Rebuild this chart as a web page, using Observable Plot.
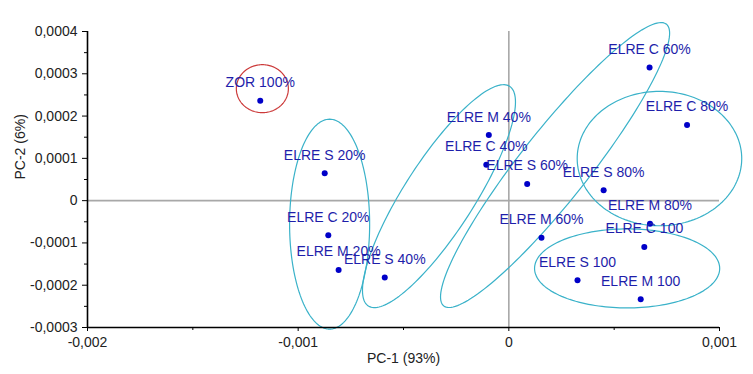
<!DOCTYPE html>
<html><head><meta charset="utf-8">
<script src="https://cdn.jsdelivr.net/npm/d3@7"></script>
<script src="https://cdn.jsdelivr.net/npm/@observablehq/plot@0.6"></script>
<style>
body{margin:0;background:#fff;}
#wrap{position:relative;width:753px;height:374px;font-family:Arial,"Liberation Sans",sans-serif;}
#title{position:absolute;left:0;top:6px;width:753px;text-align:center;font-weight:bold;font-size:14px;line-height:16px;color:#000;}
#wrap svg{position:absolute;left:0;top:0;}
</style></head><body>
<div id="wrap"><div id="title">Scores</div></div>
<script>
// Sample scores
const labels = ["ZOR 100%","ELRE S 20%","ELRE C 20%","ELRE M 20%","ELRE S 40%","ELRE M 40%","ELRE C 40%","ELRE S 60%","ELRE M 60%","ELRE C 60%","ELRE C 80%","ELRE S 80%","ELRE M 80%","ELRE C 100","ELRE S 100","ELRE M 100"];
const pc1 = [-0.00118,-0.000874,-0.000857,-0.000808,-0.000589,-0.000095,-0.000107,0.000087,0.000155,0.000668,0.000846,0.00045,0.00067,0.000643,0.000326,0.000626];
const pc2 = [0.000236,0.0000645,-0.000082,-0.000164,-0.000182,0.000155,0.000085,0.0000394,-0.000088,0.000315,0.000179,0.0000244,-0.0000544,-0.0001095,-0.000188,-0.000233];

// Axis ticks
const xTicks = [-0.002,-0.001,0,0.001];
const xMinor = [-0.0015,-0.0005,0.0005];
const yTicks = [-0.0003,-0.0002,-0.0001,0,0.0001,0.0002,0.0003,0.0004];
const yMinor = [-0.00025,-0.00015,-0.00005,0.00005,0.00015,0.00025,0.00035];
const xLabel = "PC-1 (93%)";
const yLabel = "PC-2 (6%)";

// Group ellipses: centre and two conjugate semi-axis vectors (data units)
const ellGroup = ["ZOR","20%","40%","60%","80%","100"];
const ellCx = [-0.00117,-0.0008507,-0.0003316,0.0002195,0.000715,0.0005615];
const ellCy = [0.0002648,-0.0000556,0.0000106,0.0000842,0.0000995,-0.0001603];
const ellUx = [0.0001235,0.00019,0.0003351,0.0005284,0.0003905,0.0004394];
const ellUy = [0,0,0.0002598,0.0003331,0,0];
const ellVx = [0,0,0.0001399,0.0001282,0,0];
const ellVy = [0.0000567,0.0002482,-0.0000447,-0.0000504,0.0001589,0.0000934];
const ellColor = ["#cc3a3a","#3ab2c9","#3ab2c9","#3ab2c9","#3ab2c9","#3ab2c9"];

const points = labels.map((l,i)=>({label:l,x:pc1[i],y:pc2[i]}));
const ellPts = [];
ellGroup.forEach((g,i)=>{
  const n = 160;
  for(let k=0;k<=n;k++){
    const t = 2*Math.PI*k/n;
    ellPts.push({g, c:ellColor[i], x:ellCx[i]+ellUx[i]*Math.cos(t)+ellVx[i]*Math.sin(t), y:ellCy[i]+ellUy[i]*Math.cos(t)+ellVy[i]*Math.sin(t)});
  }
});
const fmt = d => String(d).replace(".", ",");

const chart = Plot.plot({
  width:753, height:374,
  marginLeft:87, marginRight:34, marginTop:31, marginBottom:47,
  x:{domain:[-0.002,0.001]},
  y:{domain:[-0.0003,0.0004]},
  style:{fontFamily:"Arial, 'Liberation Sans', sans-serif", fontSize:"14px", background:"white", color:"#000", overflow:"visible"},
  marks:[
    Plot.ruleX([0],{stroke:"#a8a8a8",strokeWidth:1.6}),
    Plot.ruleY([0],{stroke:"#a8a8a8",strokeWidth:1.6}),
    Plot.line(ellPts,{x:"x",y:"y",z:"g",stroke:"c",strokeWidth:1.2}),
    Plot.dot(points,{x:"x",y:"y",r:3,fill:"#0000c8",stroke:null}),
    Plot.text(points,{x:"x",y:"y",text:"label",dy:-18,fill:"#1e1eaa",fontSize:14}),
    Plot.axisX({ticks:xTicks,tickSize:4,tickPadding:6,tickFormat:fmt,label:null,stroke:"#000",fill:"#222",fontSize:14}),
    Plot.axisX({ticks:xMinor,tickSize:3,tickFormat:()=>"",label:null,stroke:"#000"}),
    Plot.axisY({ticks:yTicks,tickSize:5,tickPadding:5,tickFormat:fmt,label:null,stroke:"#000",fill:"#222",fontSize:14}),
    Plot.axisY({ticks:yMinor,tickSize:3,tickFormat:()=>"",label:null,stroke:"#000"}),
    Plot.ruleX([-0.002],{stroke:"#000",strokeWidth:1.6}),
    Plot.ruleY([-0.0003],{stroke:"#000",strokeWidth:1.6}),
    Plot.text([xLabel],{frameAnchor:"bottom",dy:35,fill:"#222",fontSize:14}),
    Plot.text([yLabel],{frameAnchor:"left",dx:-67,rotate:-90,fill:"#222",fontSize:14})
  ]
});
document.getElementById("wrap").appendChild(chart);
</script>
</body></html>
